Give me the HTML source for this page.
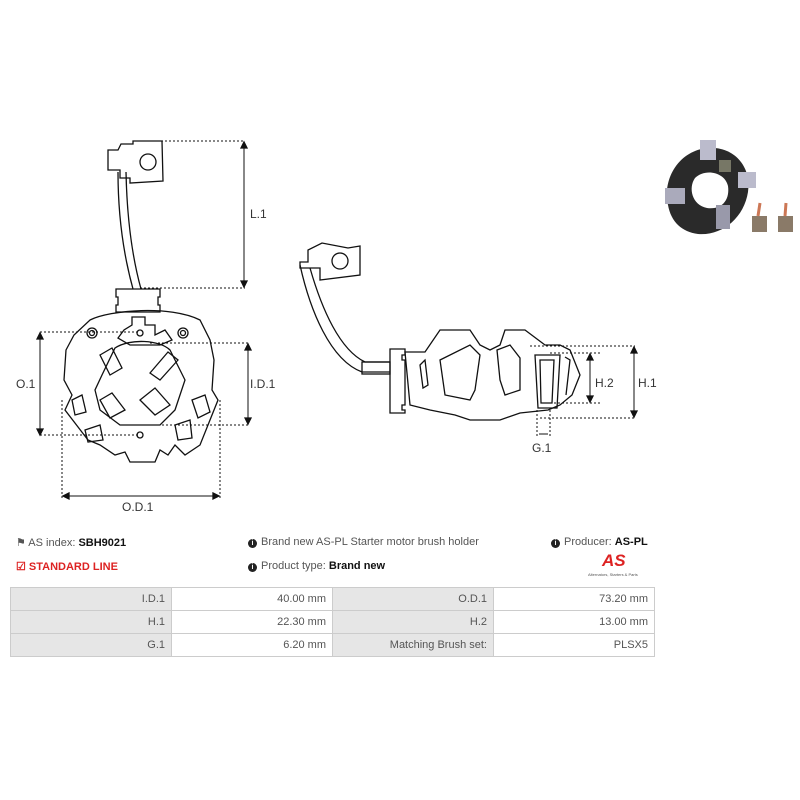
<!DOCTYPE html>
<html><head><meta charset="utf-8"><style>
body{margin:0;width:800px;height:800px;background:#fff;font-family:"Liberation Sans",sans-serif;position:relative;overflow:hidden}
.t{position:absolute;font-size:11px;color:#555;white-space:nowrap}
b{color:#111}
table{position:absolute;left:10px;top:587px;width:645px;border-collapse:collapse;font-size:11px;color:#555}
td{border:1px solid #ccc;height:22px;text-align:right;padding:0 6px}
td.l{background:#e6e6e6}
.i{display:inline-block;width:9px;height:9px;border-radius:50%;background:#222;color:#fff;font-size:7px;text-align:center;line-height:9px;font-weight:bold;margin-right:4px;vertical-align:0}
</style></head><body>
<svg width="800" height="530" style="position:absolute;left:0;top:0" fill="none" stroke="#111" stroke-width="1.3">
<path d="M108 150 L118 150 L121 144 L133 144 L133 141 L162 141 L163 181 L130 183 L130 178 L120 178 L120 170 L108 170 Z"/>
<circle cx="148" cy="162" r="8"/>
<path d="M118 172 C118 220 125 260 133 289 M126 172 C127 220 133 260 141 289"/>
<path d="M116 289 L160 289 L160 297 L158 297 L158 305 L160 305 L160 312 L116 312 L116 305 L118 305 L118 297 L116 297 Z"/>
<path d="M90 320 C110 310 170 305 200 320 L210 340 L214 360 L212 390 L218 400 L210 420 L200 445 L185 455 L175 445 L168 455 L160 450 L155 462 L130 462 L125 452 L115 455 L100 445 L88 440 L65 410 L72 395 L64 380 L66 350 L74 335 Z"/>
<path d="M132 317 L145 317 L145 325 L155 325 L155 335 L165 330 L172 340 L160 345 L130 345 L118 338 L124 330 L132 325 Z"/>
<circle cx="92" cy="333" r="5"/><circle cx="92" cy="333" r="2.5"/>
<circle cx="183" cy="333" r="5"/><circle cx="183" cy="333" r="2.5"/>
<circle cx="140" cy="333" r="3"/><circle cx="140" cy="435" r="3"/>
<path d="M115 348 C130 338 160 340 170 350 L185 380 L175 410 L160 425 L120 425 L100 410 L95 390 L102 375 Z"/>
<path d="M100 355 L112 348 L122 368 L110 375 Z M150 373 L168 352 L178 360 L160 380 Z M140 400 L155 388 L170 405 L155 415 Z M100 400 L112 393 L125 410 L110 418 Z"/>
<path d="M72 400 L82 395 L86 412 L75 415 Z M192 400 L205 395 L210 412 L198 418 Z M85 430 L100 425 L103 440 L88 442 Z M175 425 L190 420 L192 438 L178 440 Z"/>
<g stroke-dasharray="2,2" stroke-width="1">
<path d="M133 141 L245 141 M140 288 L245 288 M40 332 L140 332 M40 435 L140 435 M150 343 L250 343 M150 425 L250 425 M62 400 L62 500 M220 400 L220 500"/>
</g>
<path d="M244 143 V286 M40 334 V433 M248 345 V423 M64 496 H218" stroke-width="1"/>
<path d="M241 148 L244 142 L247 148 Z M241 281 L244 287 L247 281 Z M37 339 L40 333 L43 339 Z M37 429 L40 435 L43 429 Z M245 350 L248 344 L251 350 Z M245 418 L248 424 L251 418 Z M69 493 L63 496 L69 499 Z M213 493 L219 496 L213 499 Z" fill="#111"/>
<path d="M300 262 L308 262 L308 250 L322 243 L348 248 L360 246 L360 275 L320 280 L320 268 L300 268 Z"/>
<circle cx="340" cy="261" r="8"/>
<path d="M300 265 C310 310 330 360 362 372 L390 372 M310 268 C322 310 340 350 365 362 L390 362"/>
<rect x="362" y="362" width="28" height="12"/>
<path d="M390 349 L405 349 L405 355 L402 355 L402 360 L405 360 L405 405 L402 405 L402 410 L405 410 L405 413 L390 413 Z"/>
<path d="M405 352 L425 352 L440 330 L470 330 L480 345 L490 350 L500 345 L505 330 L525 330 L545 345 L560 345 L570 350 L580 375 L572 395 L560 405 L548 410 L520 413 L500 420 L470 420 L455 415 L430 410 L410 405 Z"/>
<path d="M440 360 L470 345 L480 355 L475 390 L470 400 L445 395 Z M420 365 L425 360 L428 385 L423 388 Z"/>
<path d="M497 350 L510 345 L520 358 L520 390 L505 395 L500 380 Z"/>
<path d="M535 355 L560 355 L557 408 L538 408 Z M540 360 L554 360 L552 403 L541 403 Z"/>
<path d="M565 357 L570 360 L566 395"/>
<g stroke-dasharray="2,2" stroke-width="1">
<path d="M530 346 L635 346 M550 353 L600 353 M550 403 L600 403 M540 418 L635 418 M537 410 L537 437 M550 410 L550 437"/>
</g>
<path d="M590 355 V401 M634 348 V416 M539 434 H548" stroke-width="1"/>
<path d="M587 360 L590 354 L593 360 Z M587 396 L590 402 L593 396 Z M631 353 L634 347 L637 353 Z M631 411 L634 417 L637 411 Z" fill="#111"/>
<path d="M668 205 C662 178 680 150 708 148 C735 146 752 168 748 192 C744 218 722 236 698 234 C682 232 671 222 668 205 Z M695 178 C688 188 692 205 707 208 C722 210 730 200 728 186 C725 172 705 168 695 178 Z" fill="#2a2a2a" fill-rule="evenodd" stroke="none"/>
<rect x="700" y="140" width="16" height="20" fill="#bbc" stroke="none"/>
<rect x="738" y="172" width="18" height="16" fill="#bbc" stroke="none"/>
<rect x="665" y="188" width="20" height="16" fill="#aab" stroke="none"/>
<rect x="716" y="205" width="14" height="24" fill="#99a" stroke="none"/>
<rect x="719" y="160" width="12" height="12" fill="#776" stroke="none"/>
<rect x="752" y="216" width="15" height="16" fill="#8a7a68" stroke="none"/>
<rect x="778" y="216" width="15" height="16" fill="#8a7a68" stroke="none"/>
<path d="M758 216 L760 203 M785 216 L786 203" stroke="#c75" stroke-width="3"/>
</svg>
<div class="t" style="left:250px;top:207px;font-size:12px;color:#333">L.1</div>
<div class="t" style="left:16px;top:377px;font-size:12px;color:#333">O.1</div>
<div class="t" style="left:250px;top:377px;font-size:12px;color:#333">I.D.1</div>
<div class="t" style="left:122px;top:500px;font-size:12px;color:#333">O.D.1</div>
<div class="t" style="left:595px;top:376px;font-size:12px;color:#333">H.2</div>
<div class="t" style="left:638px;top:376px;font-size:12px;color:#333">H.1</div>
<div class="t" style="left:532px;top:441px;font-size:12px;color:#333">G.1</div>

<div class="t" style="left:16px;top:536px">&#9873; AS index: <b>SBH9021</b></div>
<div class="t" style="left:16px;top:560px;color:#d22;font-weight:bold">&#9745; STANDARD LINE</div>
<div class="t" style="left:248px;top:536px"><span class="i">i</span>Brand new AS-PL Starter motor brush holder</div>
<div class="t" style="left:248px;top:560px"><span class="i">i</span>Product type: <b>Brand new</b></div>
<div class="t" style="left:551px;top:536px"><span class="i">i</span>Producer: <b>AS-PL</b></div>
<div class="t" style="left:602px;top:551px;color:#d22;font-weight:bold;font-style:italic;font-size:17px">AS</div>
<div class="t" style="left:588px;top:572px;font-size:4px">Alternators, Starters &amp; Parts</div>
<table>
<tr><td class="l" style="width:148px">I.D.1</td><td style="width:148px">40.00 mm</td><td class="l" style="width:148px">O.D.1</td><td>73.20 mm</td></tr>
<tr><td class="l">H.1</td><td>22.30 mm</td><td class="l">H.2</td><td>13.00 mm</td></tr>
<tr><td class="l">G.1</td><td>6.20 mm</td><td class="l">Matching Brush set:</td><td>PLSX5</td></tr>
</table>
</body></html>
